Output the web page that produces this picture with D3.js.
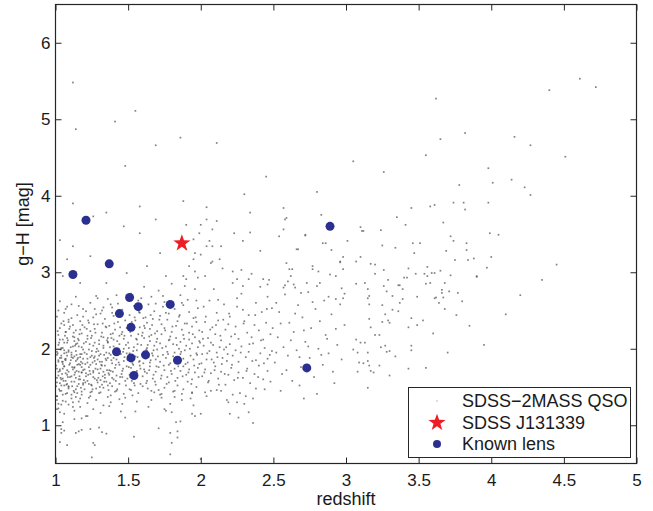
<!DOCTYPE html>
<html>
<head>
<meta charset="utf-8">
<script src="https://cdn.jsdelivr.net/npm/d3@7"></script>
<style>
  body { margin: 0; background: #fff; }
  svg { display: block; font-family: "Liberation Sans", Arial, Helvetica, sans-serif; }
</style>
</head>
<body>
<svg width="653" height="511"></svg>
<script>
var xTicks = [1, 1.5, 2, 2.5, 3, 3.5, 4, 4.5, 5];
var yTicks = [1, 2, 3, 4, 5, 6];
var legendLabels = ["SDSS\u22122MASS QSO", "SDSS J131339", "Known lens"];

// known lenses (redshift, g-H)
var lensZ  = [1.21, 1.37, 1.12, 1.51, 1.57, 1.44, 1.79, 1.52, 1.42, 1.52, 1.62, 1.84, 1.54, 2.89, 2.73];
var lensGH = [3.68, 3.11, 2.97, 2.67, 2.55, 2.46, 2.58, 2.28, 1.96, 1.88, 1.92, 1.85, 1.65, 3.60, 1.75];

// SDSS J131339
var targetZ = [1.87];
var targetGH = [3.38];

// SDSS-2MASS QSO sample (z, g-H)
var qsoLow = [
  [1.03,2.62],[1.08,2.55],[1.14,2.68],[1.19,2.52],[1.24,2.60],[1.29,2.66],[1.33,2.54],[1.38,2.58],[1.42,2.70],[1.46,2.51],[1.27,2.52],[1.36,2.65],
  [1.01,2.42],[1.04,2.33],[1.06,2.47],[1.09,2.38],[1.12,2.31],[1.15,2.44],[1.17,2.36],[1.21,2.49],[1.23,2.34],[1.26,2.41],[1.29,2.32],[1.31,2.46],[1.34,2.39],[1.37,2.30],[1.40,2.43],[1.43,2.35],[1.45,2.48],[1.48,2.37],[1.11,2.40],[1.39,2.47],
  [1.02,2.18],[1.03,2.27],[1.05,2.12],[1.07,2.22],[1.08,2.14],[1.10,2.29],[1.12,2.16],[1.14,2.24],[1.16,2.11],[1.18,2.20],[1.20,2.28],[1.22,2.13],[1.24,2.23],[1.25,2.17],[1.27,2.26],[1.30,2.11],[1.32,2.21],[1.33,2.15],[1.35,2.28],[1.38,2.19],[1.40,2.12],[1.41,2.25],[1.44,2.17],[1.46,2.22],[1.47,2.13],[1.49,2.27],[1.13,2.10],[1.36,2.09],
  [1.01,1.96],[1.02,2.05],[1.04,1.91],[1.05,2.01],[1.06,1.94],[1.08,2.08],[1.09,1.98],[1.11,1.92],[1.12,2.03],[1.14,1.97],[1.15,2.07],[1.17,1.93],[1.18,2.02],[1.20,1.95],[1.21,2.09],[1.23,1.99],[1.25,1.91],[1.26,2.04],[1.28,1.96],[1.30,2.06],[1.31,1.93],[1.33,2.01],[1.35,1.95],[1.36,2.08],[1.38,1.92],[1.40,2.03],[1.42,1.97],[1.44,2.06],[1.45,1.93],[1.47,2.00],[1.49,1.94],[1.27,1.90],
  [1.01,1.74],[1.02,1.83],[1.03,1.71],[1.04,1.88],[1.06,1.77],[1.07,1.85],[1.08,1.72],[1.10,1.81],[1.11,1.89],[1.13,1.75],[1.14,1.84],[1.16,1.70],[1.17,1.79],[1.19,1.87],[1.20,1.73],[1.22,1.82],[1.23,1.76],[1.24,1.89],[1.26,1.71],[1.28,1.80],[1.29,1.86],[1.31,1.74],[1.32,1.83],[1.34,1.78],[1.36,1.88],[1.37,1.72],[1.39,1.81],[1.41,1.75],[1.42,1.86],[1.44,1.79],[1.46,1.71],[1.47,1.84],[1.49,1.77],[1.05,1.80],[1.18,1.76],[1.33,1.70],
  [1.01,1.56],[1.02,1.65],[1.04,1.52],[1.05,1.61],[1.07,1.68],[1.08,1.54],[1.10,1.63],[1.11,1.57],[1.13,1.66],[1.15,1.51],[1.16,1.60],[1.18,1.69],[1.19,1.55],[1.21,1.64],[1.22,1.58],[1.24,1.67],[1.25,1.52],[1.27,1.61],[1.29,1.56],[1.30,1.68],[1.32,1.53],[1.34,1.62],[1.35,1.57],[1.37,1.66],[1.39,1.51],[1.40,1.60],[1.42,1.65],[1.44,1.54],[1.46,1.63],[1.48,1.58],[1.09,1.50],[1.26,1.69],
  [1.01,1.38],[1.03,1.45],[1.05,1.32],[1.07,1.41],[1.09,1.48],[1.11,1.35],[1.13,1.43],[1.16,1.31],[1.18,1.40],[1.20,1.47],[1.23,1.36],[1.25,1.44],[1.28,1.33],[1.30,1.42],[1.33,1.49],[1.36,1.37],[1.38,1.30],[1.41,1.44],[1.44,1.34],[1.47,1.41],
  [1.02,1.22],[1.06,1.15],[1.09,1.27],[1.13,1.19],[1.17,1.24],[1.21,1.12],[1.26,1.21],[1.31,1.16],[1.37,1.25],[1.45,1.18],
  [1.01,1.62],[1.02,1.85],[1.03,2.12],[1.04,1.45],[1.05,1.74],[1.06,1.98],[1.07,1.31],[1.08,1.66],[1.09,2.35],[1.01,1.92],[1.02,1.28],[1.03,1.55],[1.04,2.01],[1.05,1.83],[1.06,1.52],[1.07,2.22],[1.08,1.91],[1.09,1.70],[1.02,1.70],[1.03,1.88],[1.04,1.60],[1.06,1.77],[1.07,1.58],[1.08,1.42],[1.09,1.96],[1.03,1.73],[1.05,1.40],[1.07,1.87],[1.09,1.51],[1.01,1.38],[1.06,2.08],
  [1.11,1.64],[1.12,1.88],[1.13,2.15],[1.14,1.47],[1.15,1.79],[1.16,2.03],[1.17,1.35],[1.18,1.69],[1.11,1.95],[1.12,1.30],[1.13,1.57],[1.14,2.06],[1.15,1.86],[1.16,1.54],[1.17,2.25],[1.18,1.93],[1.19,1.72],[1.12,1.73],[1.13,1.90],[1.14,1.62],[1.16,1.80],[1.17,1.60],[1.18,1.44],[1.19,1.99],[1.13,1.76],[1.15,1.42],[1.17,1.89],[1.19,1.53],[1.11,1.40],
  [1.21,1.68],[1.22,1.87],[1.23,1.54],[1.24,1.79],[1.25,1.97],[1.26,1.63],[1.27,1.84],[1.28,1.48],[1.29,1.73],[1.30,1.91],[1.31,1.59],[1.32,1.78],[1.33,2.04],[1.34,1.66],[1.35,1.85],[1.36,1.52],[1.37,1.94],[1.38,1.71],[1.39,1.62],[1.40,1.88],[1.22,2.17],[1.27,2.08],[1.31,1.43],[1.36,2.14],[1.24,1.38]
];

var qsoCore = [
  [1.005,1.78],[1.015,2.23],[1.025,1.47],[1.035,1.99],[1.045,1.67],[1.055,2.36],[1.065,1.86],[1.075,1.53],[1.085,2.11],[1.095,1.79],
  [1.005,1.51],[1.015,1.94],[1.025,2.08],[1.035,1.62],[1.045,1.83],[1.055,1.58],[1.065,2.17],[1.075,1.95],[1.085,1.63],[1.095,2.26],
  [1.105,1.85],[1.115,1.51],[1.125,2.21],[1.135,1.69],[1.145,1.92],[1.155,2.13],[1.165,1.64],[1.175,1.83],[1.185,2.31],[1.195,1.59],
  [1.105,2.02],[1.115,1.76],[1.125,1.45],[1.135,2.04],[1.145,1.71],[1.155,1.88],[1.165,2.19],[1.175,1.49],[1.185,1.81],[1.195,2.07],
  [1.205,1.80],[1.215,2.26],[1.225,1.66],[1.235,2.06],[1.245,1.53],[1.255,1.82],[1.265,2.32],[1.275,1.74],[1.285,2.00],[1.295,1.62],
  [1.205,1.56],[1.215,1.93],[1.225,2.37],[1.235,1.71],[1.245,2.14],[1.255,1.47],[1.265,1.88],[1.275,2.21],[1.285,1.59],[1.295,1.97],
  [1.305,1.83],[1.315,2.16],[1.325,1.64],[1.335,1.92],[1.345,2.29],[1.355,1.72],[1.365,1.46],[1.375,2.02],[1.385,1.85],[1.395,2.20],
  [1.305,1.50],[1.315,1.79],[1.325,2.33],[1.335,1.57],[1.345,1.87],[1.355,2.11],[1.365,1.68],[1.375,1.55],[1.385,2.14],[1.395,1.70],
  [1.405,1.93],[1.415,1.58],[1.425,2.10],[1.435,1.82],[1.445,2.28],[1.455,1.67],[1.465,1.96],[1.475,2.17],[1.485,1.52],[1.495,1.86],
  [1.405,2.33],[1.415,1.79],[1.425,1.47],[1.435,2.00],[1.445,1.63],[1.455,2.19],[1.465,1.74],[1.475,1.89],[1.485,2.05],[1.495,1.61],
  [1.01,1.33],[1.04,1.27],[1.07,2.52],[1.12,1.24],[1.16,2.56],[1.22,1.29],[1.28,2.45],[1.33,1.26],[1.39,2.54],[1.46,1.28],
  [1.02,2.50],[1.06,2.31],[1.14,1.37],[1.19,2.42],[1.24,1.43],[1.32,2.50],[1.38,1.39],[1.43,2.59],[1.48,1.36],[1.11,2.58],
  [1.505,1.76],[1.515,2.22],[1.525,1.58],[1.535,1.97],[1.545,2.41],[1.555,1.69],[1.565,2.06],[1.575,1.83],[1.585,1.54],[1.595,2.17],
  [1.505,2.01],[1.515,1.63],[1.525,2.35],[1.535,1.79],[1.545,1.52],[1.555,2.13],[1.565,1.89],[1.575,2.48],[1.585,1.74],[1.595,1.92],
  [1.605,1.81],[1.615,2.27],[1.625,1.55],[1.635,2.05],[1.645,1.72],[1.655,2.44],[1.665,1.94],[1.675,1.66],[1.685,2.20],[1.695,1.77],
  [1.605,2.40],[1.615,1.70],[1.625,1.99],[1.635,1.48],[1.645,2.16],[1.655,1.85],[1.665,2.31],[1.675,1.98],[1.685,1.57],[1.695,2.09],
  [1.705,1.90],[1.715,2.38],[1.725,1.61],[1.735,2.01],[1.745,1.78],[1.755,2.24],[1.765,1.54],[1.775,1.93],[1.785,2.12],[1.795,1.71],
  [1.805,2.29],[1.815,1.85],[1.825,1.58],[1.835,2.05],[1.845,1.77],[1.855,2.44],[1.865,1.96],[1.875,1.64],[1.885,2.13],[1.895,1.80],
  [1.905,2.33],[1.915,1.69],[1.925,2.00],[1.935,1.54],[1.945,2.19],[1.955,1.78],[1.965,2.41],[1.975,1.92],[1.985,1.63],[1.995,2.08],
  [1.71,1.46],[1.76,2.47],[1.82,1.37],[1.87,2.60],[1.93,1.35],[1.97,2.63],[1.53,1.39],[1.59,2.66],[1.66,1.33],[1.74,2.69],
  [2.005,1.81],[2.015,2.13],[2.025,1.69],[2.035,2.42],[2.045,1.94],[2.055,1.58],[2.065,2.25],[2.075,1.86],[2.085,2.05],[2.095,1.72],
  [2.105,2.31],[2.115,1.89],[2.125,1.53],[2.135,2.17],[2.145,1.80],[2.155,2.38],[2.165,1.67],[2.175,2.02],[2.185,1.93],[2.195,2.46],
  [2.215,1.79],[2.235,2.19],[2.255,1.62],[2.275,1.95],[2.295,2.33],[2.315,1.71],[2.335,2.06],[2.355,1.84],[2.375,2.44],[2.395,1.63],
  [2.415,2.11],[2.435,1.81],[2.455,2.52],[2.475,1.92],[2.495,2.27],[2.25,2.55],[2.12,2.64],[2.38,1.48],[2.07,1.45],[2.22,1.40],
  [2.52,1.95],[2.55,2.33],[2.59,1.72],[2.62,2.11],[2.65,2.46],[2.68,1.89],[2.71,2.24],[2.74,2.03],[2.77,2.61],[2.83,1.92]
];

var qsoMid = [
  [1.52,2.72],[1.57,2.63],[1.61,2.81],[1.66,2.68],[1.71,2.76],[1.75,2.61],[1.80,2.85],[1.86,2.70],[1.91,2.64],[1.96,2.78],
  [1.51,2.44],[1.54,2.56],[1.58,2.47],[1.62,2.41],[1.64,2.58],[1.68,2.49],[1.72,2.43],[1.74,2.55],[1.78,2.46],[1.82,2.52],[1.85,2.42],[1.88,2.57],[1.92,2.48],[1.95,2.40],[1.98,2.53],[1.69,2.59],
  [1.50,2.31],[1.53,2.24],[1.55,2.37],[1.58,2.28],[1.60,2.21],[1.63,2.34],[1.65,2.26],[1.67,2.39],[1.70,2.23],[1.73,2.32],[1.75,2.27],[1.77,2.38],[1.80,2.22],[1.83,2.30],[1.84,2.36],[1.87,2.25],[1.89,2.33],[1.92,2.21],[1.94,2.29],[1.97,2.35],[1.99,2.24],[1.61,2.30],
  [1.50,2.08],[1.52,2.17],[1.54,2.02],[1.56,2.12],[1.57,2.19],[1.59,2.05],[1.61,2.14],[1.63,2.01],[1.65,2.10],[1.66,2.18],[1.68,2.04],[1.70,2.13],[1.72,2.07],[1.73,2.19],[1.76,2.03],[1.78,2.11],[1.79,2.16],[1.81,2.06],[1.83,2.14],[1.85,2.00],[1.86,2.09],[1.88,2.18],[1.90,2.04],[1.92,2.12],[1.94,2.07],[1.96,2.15],[1.98,2.02],[1.99,2.10],
  [1.50,1.85],[1.51,1.94],[1.53,1.81],[1.55,1.90],[1.56,1.98],[1.58,1.84],[1.60,1.93],[1.62,1.87],[1.63,1.97],[1.65,1.82],[1.67,1.91],[1.69,1.86],[1.70,1.99],[1.72,1.83],[1.74,1.92],[1.76,1.88],[1.77,1.96],[1.79,1.81],[1.81,1.90],[1.82,1.95],[1.84,1.84],[1.86,1.93],[1.88,1.87],[1.89,1.98],[1.91,1.82],[1.93,1.91],[1.95,1.86],[1.97,1.94],[1.99,1.80],[1.64,1.89],
  [1.51,1.66],[1.52,1.75],[1.54,1.62],[1.56,1.71],[1.58,1.78],[1.60,1.64],[1.61,1.73],[1.63,1.68],[1.65,1.77],[1.67,1.61],[1.69,1.70],[1.71,1.76],[1.73,1.65],[1.75,1.72],[1.77,1.63],[1.78,1.79],[1.80,1.67],[1.82,1.74],[1.84,1.62],[1.86,1.71],[1.88,1.77],[1.90,1.66],[1.92,1.73],[1.94,1.60],[1.96,1.69],[1.98,1.75],
  [1.51,1.47],[1.54,1.55],[1.57,1.42],[1.60,1.51],[1.63,1.58],[1.66,1.45],[1.69,1.53],[1.72,1.40],[1.75,1.49],[1.78,1.56],[1.81,1.44],[1.84,1.52],[1.88,1.47],[1.91,1.57],[1.94,1.43],[1.97,1.50],
  [1.56,1.31],[1.64,1.24],[1.73,1.36],[1.79,1.28],[1.87,1.33],[1.95,1.26],
  [2.03,2.95],[2.09,2.78],[2.15,3.05],[2.22,2.86],[2.28,2.72],[2.35,2.98],[2.41,2.81],[2.47,2.90],
  [2.02,2.55],[2.06,2.63],[2.11,2.47],[2.16,2.58],[2.20,2.42],[2.25,2.66],[2.29,2.51],[2.33,2.44],[2.38,2.60],[2.42,2.48],[2.46,2.68],[2.49,2.53],
  [2.01,2.22],[2.03,2.35],[2.05,2.14],[2.08,2.28],[2.10,2.19],[2.12,2.37],[2.14,2.11],[2.17,2.25],[2.19,2.32],[2.21,2.16],[2.24,2.29],[2.26,2.13],[2.30,2.36],[2.32,2.21],[2.35,2.15],[2.37,2.31],[2.40,2.24],[2.43,2.12],[2.45,2.34],[2.48,2.19],
  [2.01,1.93],[2.02,2.04],[2.04,1.86],[2.06,1.97],[2.07,2.08],[2.09,1.82],[2.11,1.95],[2.13,2.02],[2.15,1.88],[2.16,1.99],[2.18,1.84],[2.20,2.06],[2.22,1.91],[2.24,1.98],[2.26,1.83],[2.28,2.03],[2.31,1.89],[2.33,1.96],[2.36,2.07],[2.38,1.85],[2.41,1.94],[2.44,2.01],[2.46,1.87],[2.49,1.97],
  [2.01,1.64],[2.03,1.73],[2.05,1.56],[2.07,1.68],[2.10,1.77],[2.12,1.61],[2.14,1.70],[2.17,1.53],[2.19,1.66],[2.21,1.75],[2.23,1.59],[2.26,1.69],[2.29,1.62],[2.32,1.74],[2.34,1.55],[2.37,1.67],[2.40,1.78],[2.43,1.60],[2.46,1.71],[2.48,1.57],
  [2.04,1.38],[2.11,1.46],[2.18,1.33],[2.27,1.42],[2.36,1.35],[2.44,1.47],
  [2.51,1.82],[2.53,2.15],[2.54,2.48],[2.56,1.67],[2.57,2.02],[2.58,2.71],[2.60,1.91],[2.61,2.34],[2.63,1.58],[2.64,2.22],[2.66,1.98],[2.67,2.57],[2.69,1.76],[2.70,2.41],[2.72,2.09],[2.73,2.86],[2.75,1.88],[2.76,2.27],[2.78,1.63],[2.79,2.52],[2.81,2.00],[2.82,2.36],[2.84,1.79],[2.85,2.63],[2.87,2.13],[2.88,1.94],[2.90,2.45],[2.91,1.70],[2.93,2.26],[2.94,2.05],[2.96,2.58],[2.97,1.86],[2.99,2.31],[2.55,1.45],[2.68,1.52],[2.80,1.41],[2.92,1.55],[2.62,2.95],[2.77,3.08],[2.89,2.97],[2.59,3.12],[2.71,1.35],[2.86,2.18],[2.52,2.60],[2.65,2.80]
];

var qsoTail = [
  [2.57,3.84],[2.59,3.71],[2.83,3.75],[3.35,3.72],[3.41,3.62],[3.10,3.59],[3.12,3.54],[3.24,3.55],[3.67,3.65],[3.72,3.47],[3.74,3.41],[3.83,3.38],[2.57,3.56],[2.72,3.48],[2.84,3.38],[3.01,3.41],[3.25,3.35],[3.34,3.32],[3.46,3.38],[3.51,3.38],[3.47,3.25],[3.69,3.28],[3.75,3.16],[3.84,3.16],[3.88,3.18],[3.90,2.95],[2.66,3.30],[2.90,3.29],[2.98,3.20],[3.10,3.20],[2.96,3.13],[3.07,3.14],[3.17,3.11],[3.26,3.03],[3.43,3.05],[3.42,2.93],[3.40,2.93],[3.48,2.98],[3.54,2.98],[3.56,3.07],[3.56,2.95],[3.59,2.99],[3.61,2.99],[3.65,3.02],[3.72,2.96],[3.68,2.86],[2.63,3.04],[2.81,3.01],[3.20,2.98],[3.29,2.90],[3.36,2.83],[3.55,2.85],[2.58,2.83],[2.64,2.84],[2.69,2.73],[2.74,2.74],[2.80,2.82],[2.97,2.79],[2.99,2.72],[2.98,2.66],[3.07,2.85],[3.13,2.86],[3.15,2.78],[3.26,2.82],[3.28,2.75],[3.32,2.69],[3.49,2.68],[3.58,2.86],[3.66,2.77],[3.66,2.73],[3.71,2.75],[3.77,2.73],[2.88,2.68],[2.93,2.65],[3.15,2.66],[3.62,2.67],[3.67,2.67],
  [3.45,3.84],[3.58,3.86],[3.61,3.88],[3.74,3.91],[3.81,3.91],[3.82,3.82],[3.98,3.91],[3.99,3.51],[4.05,3.49],[3.83,3.29],[4.00,3.20],[3.97,3.06],[3.90,2.94],
  [3.37,2.83],[3.39,2.78],[3.61,2.66],[3.64,2.60],[3.80,2.62],[3.76,2.44],[3.53,2.37],[3.49,2.31],[3.45,2.40],[3.45,2.04],[3.45,1.98],[3.43,2.28],[3.39,2.65],[3.37,2.60],[3.36,2.49],[3.32,2.51],[3.29,2.37],[3.30,2.34],[3.25,2.57],[3.27,2.45],[3.25,2.35],[3.16,2.69],[3.16,2.58],[3.16,2.39],[3.17,2.28],[3.13,2.08],[3.15,1.95],[3.16,1.78],[3.20,2.18],[3.23,2.18],[3.24,2.02],[3.27,2.04],[3.28,1.96],[3.30,1.97],[3.34,1.90],[3.07,2.12],[3.10,2.08],[3.05,1.99],[3.08,1.95],[3.09,1.82],[3.12,1.81],[3.15,1.84],[3.17,1.71],[3.19,1.69],[3.23,1.78],[3.30,1.65],[3.43,1.74],[3.08,1.70],[3.15,1.49],
  [3.60,2.20],[3.70,1.95],[3.85,2.30],[3.95,2.05],[4.10,2.45],[3.55,1.75],[4.20,2.70],[4.35,2.90],[4.45,3.10],[3.68,2.52]
];

var qsoScatter = [
  [1.25,0.58],[1.79,0.62],[2.00,0.56],[1.54,0.85],[1.80,0.77],[1.84,0.84],[1.26,0.77],[1.27,0.74],[1.08,0.74],[1.35,0.89],[1.04,0.90],[1.06,0.93],[1.16,0.92],[1.18,0.94],[1.24,0.95],[1.30,0.97],[1.32,0.91],[1.71,0.96],[1.79,0.90],[1.84,0.92],[1.86,1.05],[1.83,1.04],[2.36,1.03],[2.26,1.10],[2.20,1.15],[2.33,1.17],[1.94,1.15],[1.96,1.12],[2.00,1.15],[1.75,1.21],[1.76,1.19],[1.80,1.17],[1.55,1.18],[1.48,1.10],[1.18,1.09],[1.22,1.12],[1.13,1.08],[1.01,1.21],[1.03,1.17],[1.05,1.04],[1.42,1.45],[1.52,1.46],[1.68,1.43],[1.73,1.41],[1.82,1.45],[1.87,1.41],[1.94,1.42],[2.03,1.43],[2.14,1.45],[2.19,1.30],[2.25,1.30],[2.30,1.28],[2.31,1.38],[1.03,0.78],[1.04,0.95],[1.14,0.90],
  [1.03,3.42],[1.12,3.34],[1.26,3.73],[1.35,3.78],[1.47,3.60],[1.58,3.51],[1.69,3.69],[1.72,3.25],[1.63,3.08],[1.49,2.99],[1.35,2.86],[1.24,3.21],[1.08,3.17],[1.95,3.17],[1.99,3.51],[2.04,3.69],[2.08,3.34],[1.76,2.95],[1.17,2.86],[1.05,2.95],[1.28,2.69],[1.12,3.90],[1.58,3.86],[1.88,3.93],[2.04,3.85],[2.34,3.78],[2.58,3.69],[2.23,3.51],[2.34,3.52],[2.72,3.49],[3.11,3.54],[2.06,3.41],[2.04,3.34],[2.29,3.41],[2.41,3.28],[2.54,3.47],[2.67,3.30],[2.86,3.38],[2.96,3.14],[3.20,3.10],[2.13,3.17],[2.08,3.14],[2.07,3.12],[2.22,3.01],[2.28,3.03],[2.33,2.91],[2.25,2.91],[2.29,2.82],[2.43,2.91],[2.46,2.84],[2.61,3.04],[2.60,2.88],[2.57,2.80],[2.77,3.04],[2.82,2.86],[2.93,2.95],[2.98,3.04],[1.92,3.08],[1.96,3.01],[1.98,2.93],[1.90,2.91],[1.88,2.95],[1.89,2.82],[1.90,3.30],[1.96,3.25],[2.00,3.23],[2.08,3.56],[2.11,3.67],[2.00,3.62],[1.90,3.62],[2.14,3.34],[1.95,3.43],
  [1.12,5.48],[1.14,4.87],[1.41,4.97],[1.55,5.11],[1.69,4.66],[1.86,4.76],[2.11,4.69],[1.48,4.39],[4.61,5.53],[4.72,5.42],[4.40,5.38],[3.62,5.27],[3.82,4.82],[3.65,4.74],[4.16,4.77],[4.27,4.66],[4.51,4.51],[3.98,4.36],[3.78,4.14],[4.01,4.17],[4.14,4.21],[4.23,4.11],[4.27,4.01],[3.55,4.53],[3.26,4.31],[2.45,4.25],[2.80,4.05],[3.05,4.45],[2.30,4.02]
];

var qso = qsoLow.concat(qsoCore, qsoMid, qsoTail, qsoScatter);

var svg = d3.select("svg");

var x = d3.scaleLinear().domain([1, 5]).range([55.5, 636.5]);
var y = d3.scaleLinear().domain([0.5, 6.5]).range([463.5, 4.5]);

var axisColor = "#262626";

// QSO cloud
svg.append("g")
  .selectAll("rect")
  .data(qso)
  .enter().append("rect")
    .attr("x", function(d) { return x(d[0]) - 0.85; })
    .attr("y", function(d) { return y(d[1]) - 0.85; })
    .attr("width", 1.7)
    .attr("height", 1.7)
    .attr("fill", "#4d4d4d")
    .attr("fill-opacity", 0.7);

// known lenses
svg.append("g")
  .selectAll("circle")
  .data(d3.range(lensZ.length))
  .enter().append("circle")
    .attr("cx", function(i) { return x(lensZ[i]); })
    .attr("cy", function(i) { return y(lensGH[i]); })
    .attr("r", 4.5)
    .attr("fill", "#2b2f8f");

function starPath(R) {
  var pts = [];
  for (var i = 0; i < 10; i++) {
    var r = i % 2 ? R * 0.4 : R;
    var a = -Math.PI / 2 + i * Math.PI / 5;
    pts.push([r * Math.cos(a), r * Math.sin(a)]);
  }
  return "M" + pts.join("L") + "Z";
}

svg.append("g")
  .selectAll("path")
  .data(d3.range(targetZ.length))
  .enter().append("path")
    .attr("d", starPath(9))
    .attr("transform", function(i) { return "translate(" + x(targetZ[i]) + "," + y(targetGH[i]) + ")"; })
    .attr("fill", "#ee1d25");

// axes, MATLAB style: ticks inside, box all round
var fmt = d3.format("");

var gx = svg.append("g").attr("transform", "translate(0," + y.range()[0] + ")")
  .call(d3.axisBottom(x).tickValues(xTicks).tickSizeInner(-6).tickSizeOuter(0).tickPadding(10).tickFormat(fmt));
var gxt = svg.append("g").attr("transform", "translate(0," + y.range()[1] + ")")
  .call(d3.axisTop(x).tickValues(xTicks).tickSizeInner(-6).tickSizeOuter(0).tickFormat(""));
var gy = svg.append("g").attr("transform", "translate(" + x.range()[0] + ",0)")
  .call(d3.axisLeft(y).tickValues(yTicks).tickSizeInner(-6).tickSizeOuter(0).tickPadding(5).tickFormat(fmt));
var gyr = svg.append("g").attr("transform", "translate(" + x.range()[1] + ",0)")
  .call(d3.axisRight(y).tickValues(yTicks).tickSizeInner(-6).tickSizeOuter(0).tickFormat(""));

[gx, gxt, gy, gyr].forEach(function(g) {
  g.select(".domain").remove();
  g.selectAll(".tick line").attr("stroke", axisColor);
  g.selectAll(".tick text").attr("fill", "#1a1a1a").style("font-size", "17px").style("font-family", "'Liberation Sans', Arial, sans-serif");
});

svg.append("rect")
  .attr("x", x.range()[0])
  .attr("y", y.range()[1])
  .attr("width", x.range()[1] - x.range()[0])
  .attr("height", y.range()[0] - y.range()[1])
  .attr("fill", "none")
  .attr("stroke", axisColor)
  .attr("stroke-width", 1.2);

// axis labels
svg.append("text")
  .attr("x", (x.range()[0] + x.range()[1]) / 2)
  .attr("y", 505)
  .attr("text-anchor", "middle")
  .attr("fill", "#1a1a1a")
  .style("font-size", "18px")
  .text("redshift");

svg.append("text")
  .attr("transform", "translate(29,224) rotate(-90)")
  .attr("text-anchor", "middle")
  .attr("fill", "#1a1a1a")
  .style("font-size", "18px")
  .text("g\u2212H [mag]");

// legend
var legend = svg.append("g");
legend.append("rect")
  .attr("x", 408.5).attr("y", 387.5)
  .attr("width", 222).attr("height", 70)
  .attr("fill", "#fff")
  .attr("stroke", axisColor)
  .attr("stroke-width", 1);

var rowY = [401, 422.7, 444];
legend.append("rect")
  .attr("x", 436.5).attr("y", rowY[0] - 0.5)
  .attr("width", 1).attr("height", 1)
  .attr("fill", "#777");
legend.append("path")
  .attr("d", starPath(9))
  .attr("transform", "translate(437," + rowY[1] + ")")
  .attr("fill", "#ee1d25");
legend.append("circle")
  .attr("cx", 437).attr("cy", rowY[2])
  .attr("r", 4)
  .attr("fill", "#2b2f8f");

legend.selectAll("text")
  .data(legendLabels)
  .enter().append("text")
    .attr("x", 462)
    .attr("y", function(d, i) { return rowY[i]; })
    .attr("dy", "0.36em")
    .attr("fill", "#1a1a1a")
    .style("font-size", "18px")
    .text(function(d) { return d; });
</script>
</body>
</html>
